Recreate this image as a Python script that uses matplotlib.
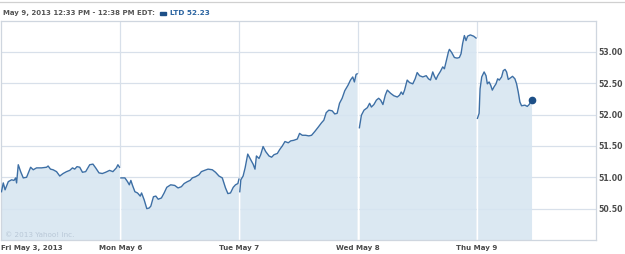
import numpy as np
import matplotlib
matplotlib.use("Agg")
import matplotlib.pyplot as plt
from matplotlib.lines import Line2D
from matplotlib.patches import Rectangle

# LTD intraday, 5 sessions; time = fraction of each trading session
day_labels = ["Fri May 3, 2013", "Mon May 6", "Tue May 7", "Wed May 8", "Thu May 9"]

fri_t = [0.00, 0.015, 0.03, 0.057, 0.085, 0.105, 0.119, 0.127, 0.141, 0.161, 0.183, 0.211, 0.245, 0.267,
         0.295, 0.337, 0.379, 0.392, 0.412, 0.434, 0.463, 0.49, 0.518, 0.547, 0.574, 0.597, 0.616, 0.635,
         0.658, 0.681, 0.708, 0.742, 0.769, 0.792, 0.82, 0.848, 0.876, 0.909, 0.937, 0.966, 0.979, 0.993]
fri_p = [50.77, 50.91, 50.80, 50.93, 50.96, 50.95, 50.99, 50.91, 51.20, 51.09, 50.99, 51.00, 51.16, 51.12,
         51.15, 51.15, 51.16, 51.18, 51.13, 51.12, 51.09, 51.02, 51.06, 51.09, 51.11, 51.15, 51.13, 51.17,
         51.16, 51.08, 51.09, 51.20, 51.21, 51.15, 51.07, 51.06, 51.08, 51.11, 51.09, 51.15, 51.20, 51.16]

mon_t = [0.004, 0.038, 0.06, 0.075, 0.088, 0.102, 0.122, 0.144, 0.167, 0.178, 0.2, 0.222, 0.242, 0.256,
         0.278, 0.298, 0.318, 0.345, 0.368, 0.39, 0.423, 0.457, 0.485, 0.513, 0.536, 0.563, 0.586, 0.605,
         0.633, 0.661, 0.681, 0.708, 0.737, 0.773, 0.8, 0.829, 0.857, 0.884, 0.904, 0.926, 0.949, 0.968,
         0.988, 0.997]
mon_p = [50.99, 50.99, 50.93, 50.88, 50.95, 50.87, 50.77, 50.75, 50.70, 50.75, 50.64, 50.50, 50.51, 50.54,
         50.69, 50.70, 50.65, 50.67, 50.75, 50.84, 50.88, 50.87, 50.83, 50.85, 50.90, 50.93, 50.95, 50.99,
         51.01, 51.04, 51.09, 51.11, 51.13, 51.12, 51.08, 51.02, 50.99, 50.83, 50.74, 50.75, 50.84, 50.88,
         50.90, 50.97]

tue_t = [0.004, 0.013, 0.032, 0.049, 0.071, 0.096, 0.116, 0.132, 0.144, 0.166, 0.18, 0.2, 0.222, 0.25,
         0.272, 0.292, 0.32, 0.339, 0.362, 0.384, 0.412, 0.432, 0.459, 0.488, 0.507, 0.53, 0.557, 0.585,
         0.608, 0.635, 0.664, 0.692, 0.711, 0.731, 0.753, 0.781, 0.803, 0.823, 0.843, 0.865, 0.887, 0.915,
         0.935, 0.954, 0.968, 0.982, 0.991]
tue_p = [50.77, 50.96, 51.02, 51.15, 51.37, 51.28, 51.21, 51.13, 51.34, 51.30, 51.36, 51.49, 51.41, 51.34,
         51.32, 51.36, 51.38, 51.44, 51.50, 51.57, 51.55, 51.58, 51.59, 51.61, 51.70, 51.67, 51.67, 51.66,
         51.67, 51.73, 51.80, 51.87, 51.91, 52.03, 52.07, 52.06, 52.01, 52.02, 52.18, 52.26, 52.38, 52.47,
         52.55, 52.60, 52.52, 52.64, 52.65]

wed_t = [0.01, 0.027, 0.049, 0.077, 0.096, 0.111, 0.132, 0.153, 0.172, 0.189, 0.208, 0.228, 0.245, 0.272,
         0.3, 0.329, 0.348, 0.362, 0.376, 0.39, 0.412, 0.432, 0.459, 0.479, 0.496, 0.516, 0.543, 0.572,
         0.591, 0.608, 0.627, 0.641, 0.655, 0.669, 0.692, 0.711, 0.725, 0.739, 0.759, 0.767, 0.786, 0.809,
         0.832, 0.851, 0.865, 0.878, 0.893, 0.907, 0.92, 0.943, 0.971, 0.991]
wed_p = [51.79, 51.99, 52.07, 52.11, 52.18, 52.12, 52.16, 52.23, 52.26, 52.23, 52.16, 52.31, 52.39, 52.34,
         52.30, 52.28, 52.31, 52.36, 52.32, 52.39, 52.55, 52.51, 52.49, 52.57, 52.67, 52.62, 52.60, 52.62,
         52.57, 52.55, 52.68, 52.61, 52.56, 52.62, 52.69, 52.76, 52.73, 52.84, 53.00, 53.04, 52.99, 52.91,
         52.90, 52.91, 52.97, 53.13, 53.26, 53.18, 53.25, 53.27, 53.25, 53.22]

thu_t = [0.003, 0.017, 0.025, 0.039, 0.059, 0.075, 0.086, 0.101, 0.114, 0.128, 0.142, 0.159, 0.173, 0.187,
         0.206, 0.22, 0.235, 0.248, 0.262, 0.277, 0.298, 0.318, 0.332, 0.346, 0.36, 0.374, 0.402, 0.422,
         0.438, 0.449, 0.458]
thu_p = [51.94, 52.02, 52.41, 52.60, 52.68, 52.62, 52.49, 52.52, 52.47, 52.39, 52.44, 52.49, 52.57, 52.55,
         52.60, 52.70, 52.72, 52.68, 52.56, 52.58, 52.61, 52.57, 52.49, 52.36, 52.20, 52.14, 52.15, 52.13,
         52.16, 52.20, 52.23]

sessions = [(fri_t, fri_p), (mon_t, mon_p), (tue_t, tue_p), (wed_t, wed_p), (thu_t, thu_p)]
price_ticks = [50.5, 51.0, 51.5, 52.0, 52.5, 53.0]
last_price = thu_p[-1]

line_c = "#3d6fa5"
fill_c = "#d6e5f1"
grid_c = "#d8e0ea"
text_c = "#4a4a4a"

fig = plt.figure(figsize=(6.25, 2.54), dpi=100)
ax = fig.add_axes([1.5 / 625, 1 - 240 / 254, 594.5 / 625, 219.5 / 254])
ymin, ymax = 50.0, 53.5
ax.set_xlim(0, 5)
ax.set_ylim(ymin, ymax)

# grid
for p in price_ticks:
    ax.axhline(p, color=grid_c, lw=0.9, zorder=0)
for d in range(1, 5):
    ax.axvline(d, color=grid_c, lw=0.9, zorder=0)

for i, (t, p) in enumerate(sessions):
    x = i + np.array(t)
    ax.fill_between(x, p, ymin, color=fill_c, alpha=0.88, lw=0, zorder=1)
    ax.plot(x, p, color=line_c, lw=1.0, zorder=3)
    if i > 0:
        prev = sessions[i - 1][1]
        top = max(prev[-1], p[0])
        ax.plot([i, i], [ymin, top], color="white", lw=1.0, zorder=2)

ax.plot(4 + thu_t[-1], last_price, "o", color="#1d4f87", ms=4.5, zorder=4)

for s in ax.spines.values():
    s.set_color("#cfd6df")
    s.set_linewidth(0.9)

ax.yaxis.tick_right()
ax.set_yticks(price_ticks)
ax.set_yticklabels([f"{v:.2f}" for v in price_ticks])
ax.set_xticks(range(5))
ax.set_xticklabels(day_labels)
ax.tick_params(axis="both", length=0, labelcolor=text_c)
ax.tick_params(axis="y", pad=1.5, labelsize=5.6)
ax.tick_params(axis="x", pad=3.5, labelsize=5.1)
for lab in ax.get_xticklabels() + ax.get_yticklabels():
    lab.set_fontweight("bold")
ax.get_xticklabels()[0].set_horizontalalignment("left")

ax.text(0.03, 50.05, "\u00a9 2013 Yahoo! Inc.", fontsize=5.2, color="#b9c8d7", zorder=5)

# header
fig.add_artist(Line2D([0, 1], [1 - 1.5 / 254, 1 - 1.5 / 254], color="#d0d0d0", lw=0.9))
fig.text(3 / 625, 1 - 13 / 254, "May 9, 2013 12:33 PM - 12:38 PM EDT:", fontsize=5.0,
         fontweight="bold", color="#555555", va="center", ha="left")
fig.add_artist(Rectangle((160 / 625, 1 - 14.5 / 254), 6 / 625, 3 / 254, color="#1d4f87"))
fig.text(170 / 625, 1 - 13 / 254, "LTD %.2f" % last_price, fontsize=5.2, fontweight="bold",
         color="#2a63a0", va="center", ha="left")

fig.savefig("out.png", dpi=100)
